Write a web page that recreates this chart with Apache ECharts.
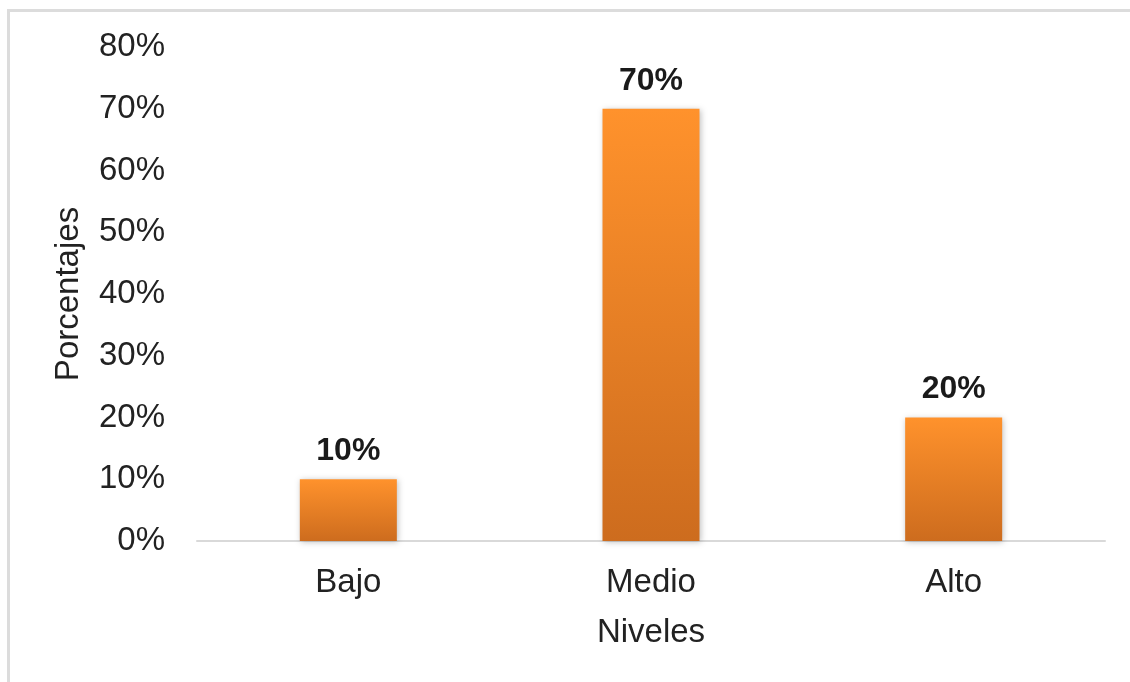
<!DOCTYPE html>
<html>
<head>
<meta charset="utf-8">
<script src="https://cdn.jsdelivr.net/npm/echarts@6/dist/echarts.min.js"></script>
<style>
  html, body { margin: 0; padding: 0; background: #fff; }
  #frame { position: absolute; left: 7px; top: 9px; width: 1200px; height: 760px;
           border-top: 3px solid #dcdcdc; border-left: 3px solid #dcdcdc; }
  #chart { position: absolute; left: 0; top: 0; width: 1130px; height: 682px; }
</style>
</head>
<body>
<div id="frame"></div>
<div id="chart"></div>
<script>
// niveles y porcentajes
const categories = ['Bajo', 'Medio', 'Alto'];
const values = [10, 70, 20];
const yTicks = [0, 10, 20, 30, 40, 50, 60, 70, 80];

const chart = echarts.init(document.getElementById('chart'));
const font = '"Liberation Sans", Arial, sans-serif';

const option = {
    backgroundColor: 'transparent',
    animation: false,
    grid: { left: 197, right: 25, top: 47, bottom: 141 },
    xAxis: {
        type: 'category',
        data: categories,
        name: 'Niveles',
        nameLocation: 'middle',
        nameGap: 75,
        nameTextStyle: { fontSize: 33, color: '#222', fontFamily: font },
        axisLine: { lineStyle: { color: '#d9d9d9', width: 2 } },
        axisTick: { show: false },
        axisLabel: { fontSize: 33, color: '#222', fontFamily: font, margin: 25 }
    },
    yAxis: {
        type: 'value',
        min: yTicks[0],
        max: yTicks[yTicks.length - 1],
        interval: 10,
        name: 'Porcentajes',
        nameLocation: 'middle',
        nameGap: 112,
        nameTextStyle: { fontSize: 33, color: '#222', fontFamily: font },
        axisLine: { show: false },
        axisTick: { show: false },
        splitLine: { show: false },
        axisLabel: { fontSize: 33, color: '#222', fontFamily: font, margin: 32, formatter: '{value}%' }
    },
    series: [{
        type: 'bar',
        data: values,
        barWidth: 97,
        itemStyle: {
            color: new echarts.graphic.LinearGradient(0, 0, 0, 1, [
                { offset: 0, color: '#ff922c' },
                { offset: 1, color: '#cd6c1e' }
            ]),
            shadowBlur: 6,
            shadowColor: 'rgba(0,0,0,0.25)',
            shadowOffsetX: 1,
            shadowOffsetY: 1
        },
        label: {
            show: true,
            position: 'top',
            distance: 12,
            formatter: '{c}%',
            fontSize: 32,
            fontWeight: 'bold',
            color: '#1a1a1a',
            fontFamily: font
        }
    }]
};

chart.setOption(option);
</script>
</body>
</html>
